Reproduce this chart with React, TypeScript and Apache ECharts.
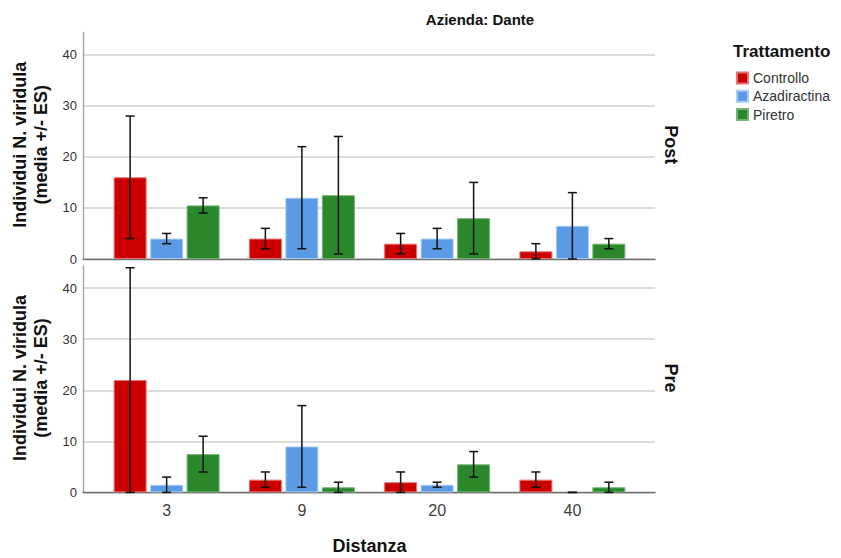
import React, { useEffect, useRef } from "react";
import * as echarts from "echarts";

const categories = ["3", "9", "20", "40"];
const treatments = ["Controllo", "Azadiractina", "Piretro"];

// Post panel (means, lower and upper error limits)
const postControllo = [16, 4, 3, 1.5];
const postControlloLow = [4, 2, 1, 0];
const postControlloHigh = [28, 6, 5, 3];
const postAzadiractina = [4, 12, 4, 6.5];
const postAzadiractinaLow = [3, 2, 2, 0];
const postAzadiractinaHigh = [5, 22, 6, 13];
const postPiretro = [10.5, 12.5, 8, 3];
const postPiretroLow = [9, 1, 1, 2];
const postPiretroHigh = [12, 24, 15, 4];

// Pre panel
const preControllo = [22, 2.5, 2, 2.5];
const preControlloLow = [0, 1, 0, 1];
const preControlloHigh = [44, 4, 4, 4];
const preAzadiractina = [1.5, 9, 1.5, 0];
const preAzadiractinaLow = [0, 1, 1, 0];
const preAzadiractinaHigh = [3, 17, 2, 0];
const prePiretro = [7.5, 1, 5.5, 1];
const prePiretroLow = [4, 0, 3, 0];
const prePiretroHigh = [11, 2, 8, 2];

const yTicks = [0, 10, 20, 30, 40];
const yMax = 44.4;

const colors = ["#CC0000", "#5B9BE5", "#2A872A"];
const borders = ["#E57373", "#A6CBF2", "#74B474"];
const FONT = "'Liberation Sans', Arial, sans-serif";

const BAR_PCT = 0.244;
const GAP_PCT = 0.106;

export default function App() {
  const ref = useRef<HTMLDivElement>(null);
  useEffect(() => {
    if (!ref.current) return;
    document.body.style.margin = "0";
    const chart = echarts.init(ref.current, null, { renderer: "svg" });

    const panels = [
      {
        means: [postControllo, postAzadiractina, postPiretro],
        lows: [postControlloLow, postAzadiractinaLow, postPiretroLow],
        highs: [postControlloHigh, postAzadiractinaHigh, postPiretroHigh],
        top: 32.3,
        label: "Post",
      },
      {
        means: [preControllo, preAzadiractina, prePiretro],
        lows: [preControlloLow, preAzadiractinaLow, prePiretroLow],
        highs: [preControlloHigh, preAzadiractinaHigh, prePiretroHigh],
        top: 265.7,
        label: "Pre",
      },
    ];
    const H = 226.7;

    const grids: any[] = [];
    const xAxes: any[] = [];
    const yAxes: any[] = [];
    const series: any[] = [];
    const graphics: any[] = [];

    panels.forEach((p, pi) => {
      const outer = pi * 2;
      const inner = pi * 2 + 1;
      grids.push({ left: 83, width: 572, top: p.top, height: H });
      grids.push({ left: 99, width: 541, top: p.top, height: H });
      xAxes.push({
        gridIndex: outer,
        type: "value",
        min: 0,
        max: 1,
        axisLine: { show: true, onZero: false, lineStyle: { color: "#707070", width: 1.3 } },
        axisTick: { show: false },
        axisLabel: { show: false },
        splitLine: { show: false },
      });
      xAxes.push({
        gridIndex: inner,
        type: "category",
        data: categories,
        axisLine: { show: false },
        axisTick: { show: false },
        axisLabel: {
          show: pi === 1,
          fontSize: 16,
          color: "#404040",
          fontFamily: FONT,
          margin: 10,
        },
        splitLine: { show: false },
      });
      yAxes.push({
        gridIndex: outer,
        type: "value",
        min: 0,
        max: yMax,
        interval: 10,
        axisLine: { show: true, lineStyle: { color: "#a0a0a0", width: 1.3 } },
        axisTick: { show: false },
        axisLabel: {
          fontSize: 13,
          color: "#333",
          fontFamily: FONT,
          margin: 6,
          showMaxLabel: false,
          formatter: (v: number) => (yTicks.includes(v) ? String(v) : ""),
        },
        splitLine: {
          show: true,
          showMaxLine: false,
          lineStyle: { color: "#d0d0d0", width: 1.5 },
        },
      });
      yAxes.push({
        gridIndex: inner,
        type: "value",
        min: 0,
        max: yMax,
        show: false,
      });

      treatments.forEach((name, t) => {
        series.push({
          type: "bar",
          name,
          xAxisIndex: inner,
          yAxisIndex: inner,
          data: p.means[t].map((v) => ({
            value: v,
            itemStyle: { borderWidth: v === 0 ? 0 : 1 },
          })),
          barWidth: BAR_PCT * 100 + "%",
          barGap: GAP_PCT * 100 + "%",
          itemStyle: { color: colors[t], borderColor: borders[t], borderWidth: 1 },
          z: 2,
        });
      });
      treatments.forEach((name, t) => {
        series.push({
          type: "custom",
          name: name + " ES " + p.label,
          xAxisIndex: inner,
          yAxisIndex: inner,
          z: 5,
          silent: true,
          encode: { x: 0, y: [1, 2] },
          data: categories.map((_, i) => [i, p.lows[t][i], p.highs[t][i]]),
          renderItem: (params: any, api: any) => {
            const xi = api.value(0);
            const lo = api.coord([xi, api.value(1)]);
            const hi = api.coord([xi, api.value(2)]);
            const bw = api.size([1, 0])[0];
            const barW = bw * BAR_PCT;
            const step = barW * (1 + GAP_PCT);
            const cx = lo[0] + (t - 1) * step;
            const cap = 4.5;
            const st = { stroke: "#111", lineWidth: 1.5 };
            return {
              type: "group",
              children: [
                { type: "line", shape: { x1: cx, y1: lo[1], x2: cx, y2: hi[1] }, style: st },
                { type: "line", shape: { x1: cx - cap, y1: lo[1], x2: cx + cap, y2: lo[1] }, style: st },
                { type: "line", shape: { x1: cx - cap, y1: hi[1], x2: cx + cap, y2: hi[1] }, style: st },
              ],
            };
          },
        });
      });

      graphics.push({
        type: "text",
        x: 30.5,
        y: p.top + H / 2 - 1,
        rotation: Math.PI / 2,
        style: {
          text: "Individui N. viridula\n(media +/- ES)",
          font: `bold 18px ${FONT}`,
          fill: "#111",
          align: "center",
          verticalAlign: "middle",
          lineHeight: 20.5,
        },
      });
      graphics.push({
        type: "text",
        x: 670.5,
        y: p.top + H / 2 - 1,
        rotation: -Math.PI / 2,
        style: {
          text: p.label,
          font: `bold 18px ${FONT}`,
          fill: "#111",
          align: "center",
          verticalAlign: "middle",
        },
      });
    });

    graphics.push({
      type: "text",
      x: 480,
      y: 19.7,
      style: {
        text: "Azienda: Dante",
        font: `bold 15px ${FONT}`,
        fill: "#111",
        align: "center",
        verticalAlign: "middle",
      },
    });
    graphics.push({
      type: "text",
      x: 369.5,
      y: 546,
      style: {
        text: "Distanza",
        font: `bold 18px ${FONT}`,
        fill: "#111",
        align: "center",
        verticalAlign: "middle",
      },
    });
    graphics.push({
      type: "text",
      x: 733,
      y: 51,
      style: {
        text: "Trattamento",
        font: `bold 17px ${FONT}`,
        fill: "#111",
        align: "left",
        verticalAlign: "middle",
      },
    });

    chart.setOption({
      animation: false,
      backgroundColor: "#fff",
      textStyle: { fontFamily: FONT },
      grid: grids,
      xAxis: xAxes,
      yAxis: yAxes,
      series,
      legend: {
        data: treatments,
        orient: "vertical",
        left: 736,
        top: 71,
        padding: 0,
        itemWidth: 11,
        itemHeight: 11,
        itemGap: 4.3,
        icon: "rect",
        textStyle: { fontSize: 14, color: "#333", fontFamily: FONT },
      },
      graphic: graphics,
    });
    return () => chart.dispose();
  }, []);
  return (
    <div
      ref={ref}
      style={{ width: 841, height: 558, position: "absolute", left: 0, top: 0 }}
    />
  );
}
